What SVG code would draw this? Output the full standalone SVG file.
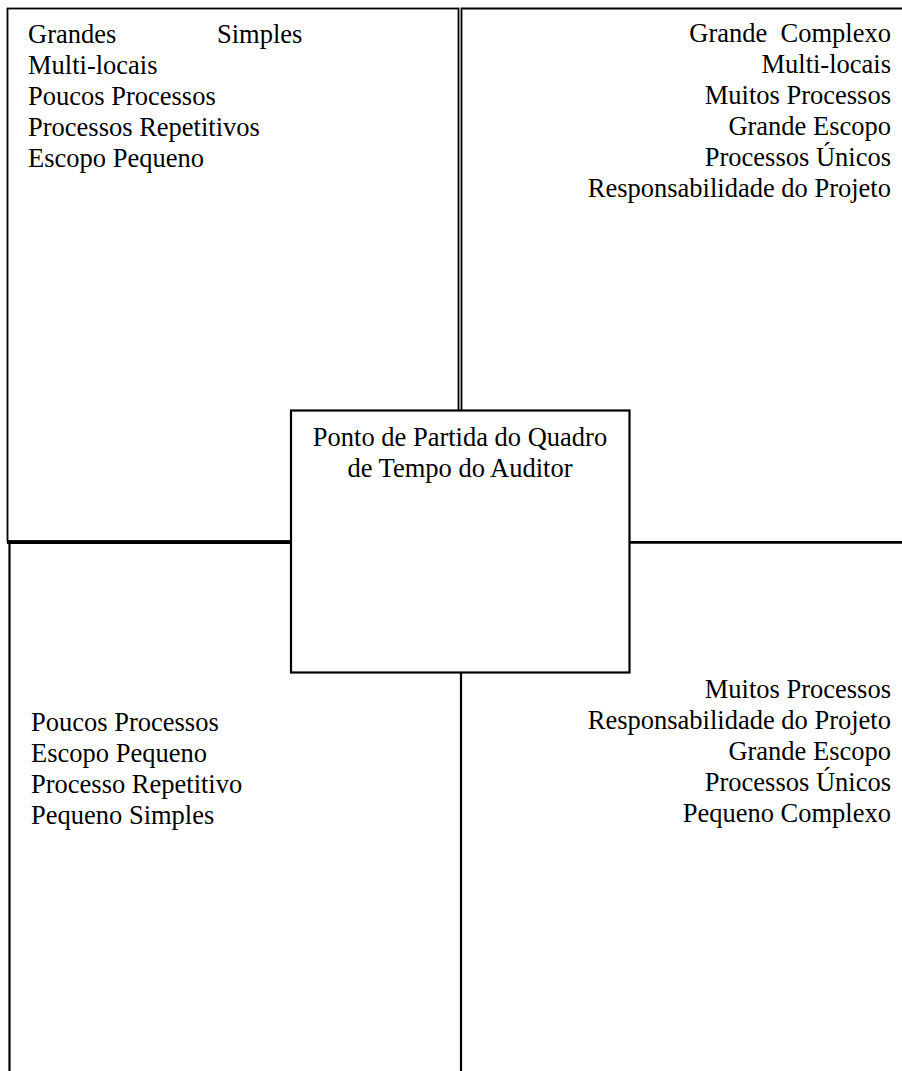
<svg xmlns="http://www.w3.org/2000/svg" width="902" height="1071" viewBox="0 0 902 1071">
<style>
  text { font-family: "Liberation Serif", "Times New Roman", serif; font-size: 26.5px; fill: #000; }
  .r { text-anchor: end; }
  .c { text-anchor: middle; }
  .ln { stroke: #000; fill: none; }
</style>
<rect width="902" height="1071" fill="#fff"/>
<g id="connectors">
  <line class="ln" x1="7" y1="542.5" x2="291" y2="542.5" stroke-width="2.8"/>
  <line class="ln" x1="629" y1="542.3" x2="902" y2="542.3" stroke-width="2.8"/>
  <line class="ln" x1="461" y1="672" x2="461" y2="1071" stroke-width="2.2"/>
</g>
<g id="q-top-left">
  <rect class="ln" x="7.5" y="8.5" width="451" height="532.5" stroke-width="1.8"/>
  <text x="28" y="42.5">Grandes</text>
  <text x="217" y="42.5">Simples</text>
  <text x="28" y="73.5">Multi-locais</text>
  <text x="28" y="104.5">Poucos Processos</text>
  <text x="28" y="135.5">Processos Repetitivos</text>
  <text x="28" y="166.5">Escopo Pequeno</text>
</g>
<g id="q-top-right">
  <path class="ln" d="M461.5 541 V8.5 H903" stroke-width="1.8"/>
  <text class="r" x="891" y="42" xml:space="preserve" style="white-space:pre">Grande  Complexo</text>
  <text class="r" x="891" y="73">Multi-locais</text>
  <text class="r" x="891" y="104">Muitos Processos</text>
  <text class="r" x="891" y="135">Grande Escopo</text>
  <text class="r" x="891" y="166">Processos Únicos</text>
  <text class="r" x="891" y="197">Responsabilidade do Projeto</text>
</g>
<g id="q-bottom-left">
  <line class="ln" x1="9.5" y1="541" x2="9.5" y2="1071" stroke-width="2.2"/>
  <text x="31" y="731">Poucos Processos</text>
  <text x="31" y="762">Escopo Pequeno</text>
  <text x="31" y="793">Processo Repetitivo</text>
  <text x="31" y="824">Pequeno Simples</text>
</g>
<g id="q-bottom-right">
  <text class="r" x="891" y="698">Muitos Processos</text>
  <text class="r" x="891" y="729">Responsabilidade do Projeto</text>
  <text class="r" x="891" y="760">Grande Escopo</text>
  <text class="r" x="891" y="791">Processos Únicos</text>
  <text class="r" x="891" y="822">Pequeno Complexo</text>
</g>
<g id="center">
  <rect x="291" y="410.5" width="338.5" height="262" fill="#fff" stroke="#000" stroke-width="2.2"/>
  <text class="c" x="460" y="446">Ponto de Partida do Quadro</text>
  <text class="c" x="460" y="477">de Tempo do Auditor</text>
</g>
</svg>
